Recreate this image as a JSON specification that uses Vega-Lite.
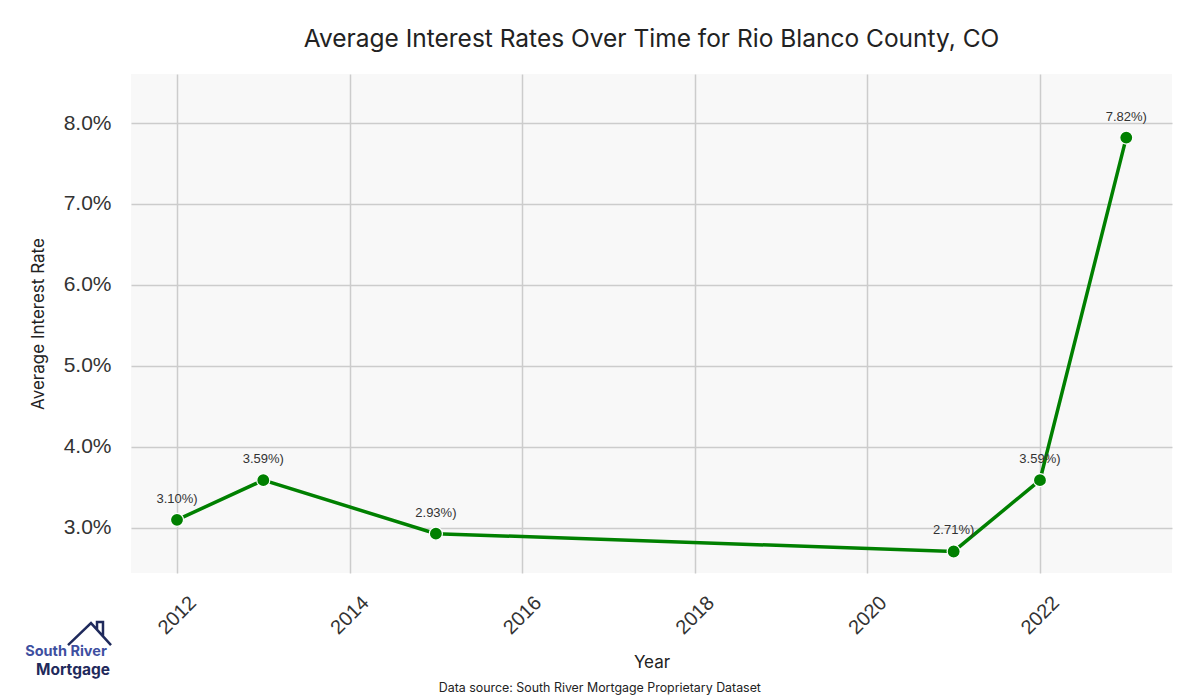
{
  "$schema": "https://vega.github.io/schema/vega-lite/v6.json",
  "autosize": "none",
  "width": 1041,
  "height": 499,
  "padding": {"top": 74, "left": 131, "right": 28, "bottom": 127},
  "background": "white",
  "config": {
    "view": {"stroke": null, "fill": "#f8f8f8"},
    "axis": {"domain": false, "ticks": false, "tickSize": 0, "gridColor": "#cccccc", "gridWidth": 1.5}
  },
  "title": {
    "text": "Average Interest Rates Over Time for Rio Blanco County, CO",
    "anchor": "middle",
    "font": "Inter",
    "fontSize": 24.5,
    "fontWeight": 400,
    "color": "#222222",
    "offset": 22
  },
  "datasets": {
    "rates": [
      {"year": 2012, "rate": 3.10, "label": "3.10%)"},
      {"year": 2013, "rate": 3.59, "label": "3.59%)"},
      {"year": 2015, "rate": 2.93, "label": "2.93%)"},
      {"year": 2021, "rate": 2.71, "label": "2.71%)"},
      {"year": 2022, "rate": 3.59, "label": "3.59%)"},
      {"year": 2023, "rate": 7.82, "label": "7.82%)"}
    ]
  },
  "layer": [
    {
      "data": {"name": "rates"},
      "mark": {"type": "line", "color": "#008000", "strokeWidth": 3.5},
      "encoding": {
        "x": {
          "field": "year", "type": "quantitative",
          "scale": {"domain": [2011.467, 2023.53], "nice": false, "zero": false},
          "axis": {
            "title": "Year", "values": [2012, 2014, 2016, 2018, 2020, 2022], "format": "d",
            "labelAngle": -45, "labelAlign": "center", "labelBaseline": "middle", "labelPadding": 42,
            "labelFont": "Liberation Sans", "labelFontSize": 20, "labelColor": "#333333",
            "titleFont": "Inter", "titleFontSize": 17, "titleFontWeight": 400, "titleColor": "#222222", "titlePadding": 17
          }
        },
        "y": {
          "field": "rate", "type": "quantitative",
          "scale": {"domain": [2.444, 8.605], "nice": false, "zero": false},
          "axis": {
            "title": "Average Interest Rate", "values": [3, 4, 5, 6, 7, 8],
            "labelExpr": "format(datum.value, '.1f') + '%'",
            "labelFont": "Liberation Sans", "labelFontSize": 21, "labelColor": "#333333", "labelPadding": 20,
            "titleFont": "Inter", "titleFontSize": 17, "titleFontWeight": 400, "titleColor": "#222222", "titlePadding": 16
          }
        }
      }
    },
    {
      "data": {"name": "rates"},
      "mark": {"type": "point", "filled": true, "color": "#008000", "size": 170, "stroke": "white", "strokeWidth": 1.2, "opacity": 1},
      "encoding": {
        "x": {"field": "year", "type": "quantitative"},
        "y": {"field": "rate", "type": "quantitative"}
      }
    },
    {
      "data": {"name": "rates"},
      "mark": {"type": "text", "dy": -21, "baseline": "middle", "align": "center", "font": "Liberation Sans", "fontSize": 13, "color": "#333333"},
      "encoding": {
        "x": {"field": "year", "type": "quantitative"},
        "y": {"field": "rate", "type": "quantitative"},
        "text": {"field": "label"}
      }
    },
    {
      "data": {"values": [{}]},
      "mark": {"type": "text", "font": "Inter", "fontSize": 12.4, "color": "#222222", "baseline": "middle", "align": "center"},
      "encoding": {
        "x": {"datum": 2016.9, "type": "quantitative"},
        "y": {"datum": 1.025, "type": "quantitative"},
        "text": {"value": "Data source: South River Mortgage Proprietary Dataset"}
      }
    },
    {
      "data": {"values": [{}]},
      "mark": {"type": "text", "font": "Inter", "fontSize": 14.5, "fontWeight": "bold", "color": "#3e4fa0", "baseline": "middle", "align": "center"},
      "encoding": {
        "x": {"datum": 2010.714, "type": "quantitative"},
        "y": {"datum": 1.47, "type": "quantitative"},
        "text": {"value": "South River"}
      }
    },
    {
      "data": {"values": [{}]},
      "mark": {"type": "text", "font": "Inter", "fontSize": 15.5, "fontWeight": "bold", "color": "#1f2a5c", "baseline": "middle", "align": "center"},
      "encoding": {
        "x": {"datum": 2010.795, "type": "quantitative"},
        "y": {"datum": 1.245, "type": "quantitative"},
        "text": {"value": "Mortgage"}
      }
    },
    {
      "data": {"values": [{}]},
      "mark": {
        "type": "point", "filled": false, "stroke": "#1f2a5c", "strokeWidth": 2.5, "opacity": 1, "size": 1936,
        "shape": "M-1,0.5L0.045,-0.5L0.955,0.5M0.318,-0.2L0.318,-0.545L0.59,-0.545L0.59,0.09"
      },
      "encoding": {
        "x": {"datum": 2010.992, "type": "quantitative"},
        "y": {"datum": 1.69, "type": "quantitative"}
      }
    }
  ]
}
